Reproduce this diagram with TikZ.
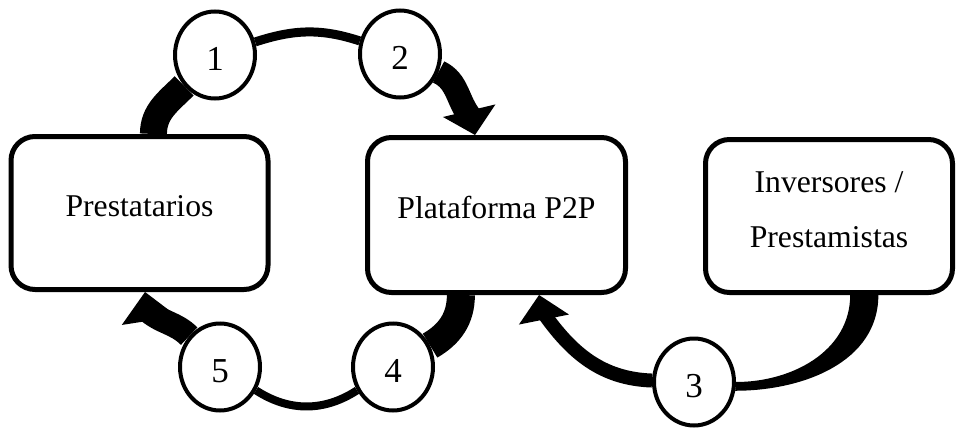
\documentclass[tikz,border=0pt]{standalone}
\usepackage{fontspec}
\setmainfont{Liberation Serif}
\usepackage{tikz}
\usetikzlibrary{shapes.geometric,arrows.meta,backgrounds}

\begin{document}
\begin{tikzpicture}[x=1pt, y=1pt,
    bloque/.style={draw, line width=5pt, rounded corners=24pt, fill=white,
        minimum width=257pt, minimum height=153pt, align=center,
        font=\fontsize{31.7}{55}\selectfont},
    paso/.style={draw, ellipse, line width=4pt, fill=white, inner sep=0pt,
        minimum width=80pt, minimum height=87pt, text height=31pt,
        font=\fontsize{35}{40}\selectfont},
    punta/.style 2 args={-{Triangle[width=#1, length=#2, line width=0pt]}}]
    \useasboundingbox (0,0) rectangle (958,432);

    % Boxes
    \node[bloque, text height=21pt, text depth=14pt] (pres) at (139.5,219) {Prestatarios};
    \node[bloque, minimum width=258pt, minimum height=155pt,
          text height=21pt, text depth=14pt] (plat) at (496.5,217) {Plataforma P2P};
    \node[bloque, minimum width=247pt, text height=77pt, text depth=15pt] (inv) at (829,216)
        {Inversores /\\Prestamistas};

    % Numbered steps
    \node[paso] (n1) at (215,377) {1};
    \node[paso] (n2) at (400,378) {2};
    \node[paso] (n3) at (694,50) {3};
    \node[paso] (n4) at (393,65) {4};
    \node[paso] (n5) at (220,65) {5};

    % Curved arrows, behind boxes and circles
    \begin{scope}[on background layer]
        % Prestatarios -> Plataforma
        \draw[line width=27pt] (pres.80) to[out=90, in=225] (n1);
        \draw[line width=9pt] (n1) to[out=18, in=162] (n2);
        \draw[line width=24pt] (n2) to[out=-25, in=130] ([shift={(-4,17)}]plat.105);
        \draw[punta={54pt}{25pt}] ([shift={(-6,25)}]plat.105) -- (plat.105);
        % Plataforma -> Prestatarios
        \draw[line width=28pt] (plat.-114) to[out=-90, in=30] (n4);
        \draw[line width=8pt] (n4) to[out=213, in=-33] (n5);
        \draw[line width=24pt] (n5) to[out=135, in=-40] ([shift={(3,-19)}]pres.-86);
        \draw[punta={56pt}{29pt}] ([shift={(4.5,-29)}]pres.-86) -- (pres.-86);
        % Inversores -> Plataforma
        \fill (inv.-75) to[out=-90, in=0] (n3.0) -- (n3.-12)
            to[out=0, in=-90] (inv.-58) -- cycle;
        \draw[line width=14pt] (n3) to[out=178, in=-55] ([shift={(3.3,-16.5)}]plat.-62);
        \draw[punta={51pt}{25pt}] ([shift={(5,-25)}]plat.-62) -- (plat.-62);
    \end{scope}
\end{tikzpicture}
\end{document}
